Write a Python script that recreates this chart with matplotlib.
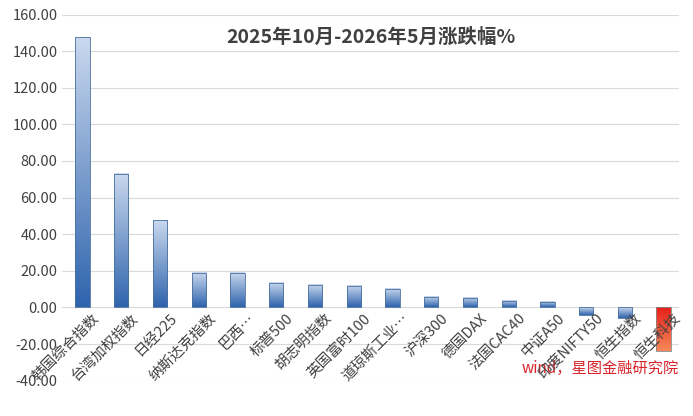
import numpy as np
import matplotlib.pyplot as plt
from matplotlib.colors import LinearSegmentedColormap

plt.rcParams['font.family'] = ['Noto Sans CJK SC', 'DejaVu Sans']

labels = ['韩国综合指数', '台湾加权指数', '日经225', '纳斯达克指数', '巴西…', '标普500',
          '胡志明指数', '英国富时100', '道琼斯工业…', '沪深300', '德国DAX', '法国CAC40',
          '中证A50', '印度NIFTY50', '恒生指数', '恒生科技']
values = [147.5, 73.0, 47.5, 19.0, 19.0, 13.5, 12.5, 11.5, 10.0, 5.5, 5.0, 3.5, 3.0,
          -4.0, -6.0, -24.0]

blue = LinearSegmentedColormap.from_list('b', ['#2f64ad', '#c9d8ee'])
red = LinearSegmentedColormap.from_list('r', ['#f7885a', '#e8201a'])

fig = plt.figure(figsize=(6.93, 4.16), dpi=100)
ax = fig.add_axes([0.09, 0.085, 0.89, 0.88])
w = 0.37
grad = np.linspace(0, 1, 100).reshape(-1, 1)
for i, v in enumerate(values):
    is_red = i == len(values) - 1
    lo, hi = min(0, v), max(0, v)
    ax.imshow(grad, cmap=red if is_red else blue, extent=[i - w / 2, i + w / 2, lo, hi],
              aspect='auto', origin='lower', zorder=2)
    ax.add_patch(plt.Rectangle((i - w / 2, lo), w, hi - lo, fill=False,
                               ec='#888888' if is_red else '#4a6f9e', lw=0.6, zorder=3))

ax.set_xlim(-0.52, 15.4)
ax.set_ylim(-40, 160)
ax.set_yticks(np.arange(-40, 161, 20))
ax.set_yticklabels([f'{t:.2f}' for t in np.arange(-40, 161, 20)], fontsize=10.5, color='#404040')
ax.set_xticks([])
for i, lab in enumerate(labels):
    ax.text(i + 0.25, -2, lab, rotation=45, ha='right', va='top', rotation_mode='anchor',
            fontsize=10.5, color='#404040', zorder=4)
ax.tick_params(length=0)
ax.grid(axis='y', color='#d9d9d9', lw=0.8, zorder=0)
for s in ax.spines.values():
    s.set_visible(False)
ax.set_title('2025年10月-2026年5月涨跌幅%', fontsize=14, fontweight='bold', color='#404040',
             y=0.9)
ax.text(1.0, 0.01, 'wind，星图金融研究院', transform=ax.transAxes, ha='right', va='bottom',
        color='#d8242a', fontsize=11, style='italic')
fig.savefig('out.png')
